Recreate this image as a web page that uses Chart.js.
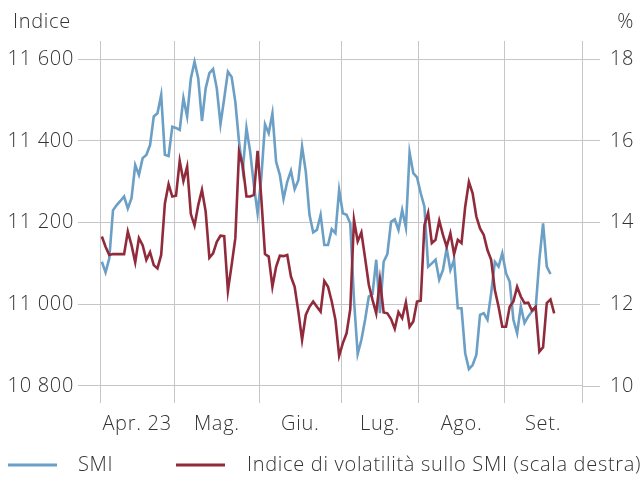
<!DOCTYPE html>
<html lang="it">
<head>
<meta charset="UTF-8">
<title>SMI e indice di volatilità</title>
<script src="https://cdn.jsdelivr.net/npm/chart.js"></script>
<style>
  body { margin: 0; background: #fff; }
  #wrap { width: 644px; height: 477px; }
</style>
</head>
<body>
<div id="wrap"><canvas id="smiChart" width="644" height="477"></canvas></div>
<script>
// una osservazione per giorno feriale, dal 3 aprile 2023
const smi = [
  11104, 11078, 11112, 11230, 11243, 11253, 11264, 11235, 11260, 11341,
  11317, 11358, 11366, 11390, 11460, 11468, 11513, 11366, 11363, 11435,
  11432, 11427, 11505, 11460, 11553, 11594, 11553, 11449, 11529, 11566,
  11576, 11529, 11441, 11504, 11570, 11557, 11496, 11398, 11329, 11432,
  11374, 11292, 11223, 11309, 11441, 11419, 11468, 11349, 11317, 11258,
  11300, 11327, 11282, 11304, 11386, 11325, 11219, 11176, 11182, 11219,
  11145, 11145, 11184, 11174, 11280, 11223, 11219, 11198, 11011, 10878,
  10913, 10962, 11019, 11025, 11109, 10978, 11104, 11123, 11202, 11208,
  11182, 11231, 11188, 11372, 11321, 11311, 11272, 11239, 11092, 11100,
  11109, 11060, 11084, 11137, 11084, 11109, 10990, 10990, 10880, 10841,
  10851, 10876, 10974, 10978, 10962, 11027, 11104, 11092, 11125, 11076,
  11055, 10962, 10929, 10995, 10954, 10970, 10982, 10990, 11109, 11198,
  11092, 11074
];
const vol = [
  13.66, 13.41, 13.21, 13.23, 13.23, 13.23, 13.23, 13.78, 13.45, 13.03,
  13.62, 13.45, 13.09, 13.28, 12.96, 12.88, 13.21, 14.47, 14.94, 14.64,
  14.66, 15.51, 15.02, 15.37, 14.21, 13.93, 14.43, 14.80, 14.27, 13.14,
  13.25, 13.53, 13.68, 13.67, 12.33, 12.96, 13.62, 15.74, 15.41, 14.64,
  14.64, 14.68, 15.76, 14.60, 13.23, 13.17, 12.43, 12.92, 13.19, 13.18,
  13.21, 12.68, 12.43, 11.82, 11.13, 11.74, 11.94, 12.07, 11.94, 11.82,
  12.57, 12.43, 12.07, 11.62, 10.74, 11.05, 11.29, 11.88, 14.07, 13.54,
  13.76, 13.13, 12.48, 12.11, 11.78, 12.60, 11.80, 11.78, 11.64, 11.40,
  11.81, 11.66, 12.05, 11.45, 11.58, 12.07, 12.09, 13.94, 14.24, 13.50,
  13.58, 14.05, 13.70, 13.41, 13.74, 13.23, 13.58, 13.50, 14.39, 15.00,
  14.72, 14.15, 13.86, 13.70, 13.33, 13.09, 12.35, 11.94, 11.45, 11.45,
  11.94, 12.07, 12.43, 12.19, 12.03, 12.04, 11.85, 11.94, 10.84, 10.95,
  12.03, 12.12, 11.78
];
const months = ['Apr. 23', 'Mag.', 'Giu.', 'Lug.', 'Ago.', 'Set.'];
const monthStarts = [0, 20, 43, 65, 86, 109, 130]; // indice del primo giorno feriale del mese
const leftTicks = [10800, 11000, 11200, 11400, 11600];
const rightTicks = [10, 12, 14, 16, 18];

const gridColor = '#c6c6c8';
const textColor = '#333333';
const blue = '#6b9fc5';
const red = '#912b3b';
const font = { family: '"Open Sans"', size: 20, weight: 300 };

// linee verticali tra un mese e l'altro, etichette a metà mese
const bounds = monthStarts.map(v => v - 0.5);
const mids = months.map((m, i) => (bounds[i] + bounds[i + 1]) / 2);
const fmt = v => String(v).replace(/\B(?=(\d{3})+(?!\d))/g, ' ');

const chromePlugin = {
    id: 'chrome',
    beforeDraw(chart) {
        // testo un po' più spaziato, come nell'originale
        chart.ctx.letterSpacing = '0.7px';
    },
    afterDraw(chart) {
        const ctx = chart.ctx;
        ctx.save();
        ctx.letterSpacing = '0.7px';
        ctx.font = '300 20px "Open Sans"';
        ctx.fillStyle = textColor;
        ctx.textBaseline = 'middle';
        ctx.textAlign = 'left';
        ctx.fillText('Indice', 13, 22);
        ctx.textAlign = 'right';
        ctx.fillText('%', 634, 22);

        // legenda
        const ly = 465;
        ctx.textAlign = 'left';
        ctx.lineWidth = 3;
        ctx.strokeStyle = blue;
        ctx.beginPath(); ctx.moveTo(8, ly); ctx.lineTo(57, ly); ctx.stroke();
        ctx.fillText('SMI', 78, ly);
        ctx.strokeStyle = red;
        ctx.beginPath(); ctx.moveTo(176, ly); ctx.lineTo(225, ly); ctx.stroke();
        ctx.fillText('Indice di volatilità sullo SMI (scala destra)', 247, ly);
        ctx.restore();
    }
};

new Chart(document.getElementById('smiChart'), {
    type: 'line',
    data: {
        datasets: [{
            label: 'SMI',
            data: smi.map((v, i) => ({ x: i, y: v })),
            borderColor: blue,
            borderWidth: 2.6,
            yAxisID: 'y',
            order: 2
        }, {
            label: 'Indice di volatilità sullo SMI (scala destra)',
            data: vol.map((v, i) => ({ x: i, y: v })),
            borderColor: red,
            borderWidth: 2.6,
            yAxisID: 'y2',
            order: 1
        }]
    },
    options: {
        responsive: false,
        animation: false,
        layout: { padding: { top: 41, left: 0, right: 0, bottom: 0 } },
        elements: { point: { radius: 0 }, line: { tension: 0 } },
        plugins: { legend: { display: false }, tooltip: { enabled: false } },
        scales: {
            x: {
                type: 'linear',
                min: bounds[0],
                max: bounds[bounds.length - 1],
                afterBuildTicks: s => {
                    s.ticks = bounds.concat(mids).sort((a, b) => a - b).map(v => ({ value: v }));
                },
                afterFit: s => { s.height = 74; s.paddingLeft = 0; s.paddingRight = 0; },
                border: { display: false },
                grid: {
                    drawTicks: false,
                    color: c => (c.tick && bounds.includes(c.tick.value)) ? gridColor : 'rgba(0,0,0,0)',
                    lineWidth: 1
                },
                ticks: {
                    autoSkip: false,
                    maxRotation: 0,
                    padding: 9,
                    color: textColor,
                    font: font,
                    callback: v => {
                        const k = mids.indexOf(v);
                        return k >= 0 ? months[k] : '';
                    }
                }
            },
            y: {
                position: 'left',
                min: 10758,
                max: 11645,
                afterBuildTicks: s => { s.ticks = leftTicks.map(v => ({ value: v })); },
                afterFit: s => { s.width = 100; s.paddingTop = 0; s.paddingBottom = 0; },
                border: { display: false },
                grid: { color: gridColor, tickLength: 22 },
                ticks: { padding: 4, color: textColor, font: font, callback: v => fmt(v) }
            },
            y2: {
                position: 'right',
                min: 9.584,
                max: 18.448,
                afterBuildTicks: s => { s.ticks = rightTicks.map(v => ({ value: v })); },
                afterFit: s => { s.width = 62; s.paddingTop = 0; s.paddingBottom = 0; },
                border: { display: false },
                grid: { drawOnChartArea: false, color: gridColor, tickLength: 18 },
                ticks: { padding: 10, color: textColor, font: font }
            }
        }
    },
    plugins: [chromePlugin]
});
</script>
</body>
</html>
